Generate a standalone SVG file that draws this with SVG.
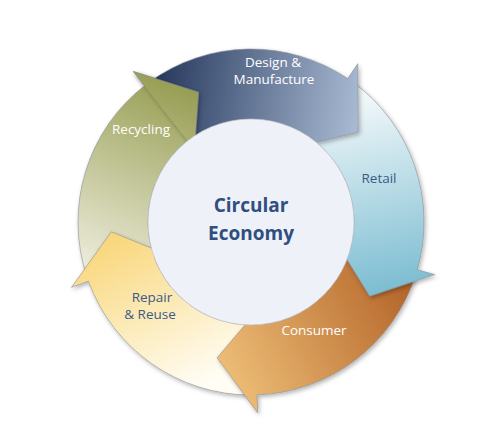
<svg xmlns="http://www.w3.org/2000/svg" width="503" height="445" viewBox="0 0 503 445">
<defs>
<filter id="sh" x="-20%" y="-20%" width="140%" height="140%"><feDropShadow dx="1.5" dy="2" stdDeviation="2" flood-color="#000" flood-opacity="0.3"/></filter>
<linearGradient id="gD" gradientUnits="userSpaceOnUse" x1="150" y1="80" x2="360" y2="110"><stop offset="0" stop-color="#23355a"/><stop offset="1" stop-color="#a9bbd3"/></linearGradient>
<linearGradient id="gR" gradientUnits="userSpaceOnUse" x1="350" y1="90" x2="390" y2="290"><stop offset="0" stop-color="#f6fafb"/><stop offset="1" stop-color="#7cbdd2"/></linearGradient>
<linearGradient id="gC" gradientUnits="userSpaceOnUse" x1="405" y1="280" x2="210" y2="380"><stop offset="0" stop-color="#b5662a"/><stop offset="1" stop-color="#f1c47c"/></linearGradient>
<linearGradient id="gP" gradientUnits="userSpaceOnUse" x1="180" y1="395" x2="100" y2="230"><stop offset="0" stop-color="#fffdf4"/><stop offset="1" stop-color="#f8d473"/></linearGradient>
<linearGradient id="gY" gradientUnits="userSpaceOnUse" x1="95" y1="285" x2="185" y2="80"><stop offset="0" stop-color="#f2f1e4"/><stop offset="1" stop-color="#949b4e"/></linearGradient>
</defs>
<style>
.a{stroke:#8a8f96;stroke-width:0.6;filter:url(#sh)}
.w{font-family:"Open Sans","Liberation Sans",sans-serif;font-size:13.5px;fill:#fff;text-anchor:middle}
.b{font-family:"Open Sans","Liberation Sans",sans-serif;font-size:13.5px;fill:#3c5a86;text-anchor:middle}
.c{font-family:"Open Sans","Liberation Sans",sans-serif;font-size:19px;font-weight:bold;fill:#2f4f7e;text-anchor:middle}
</style>
<g id="connectors">
<path id="recycling" class="a" fill="url(#gY)" d="M86.5,275.5 A173,173 0 0 1 144.5,85.7 L133.4,71.5 L198.6,92.2 L194.4,149.5 L187.6,140.8 A103,103 0 0 0 153,253.8 Z"/>
<path id="repair" class="a" fill="url(#gP)" d="M251,395 A173,173 0 0 1 88.4,281.2 L71.5,287.3 L111.3,231.8 L164.5,253.5 L154.2,257.2 A103,103 0 0 0 251,325 Z"/>
<path id="consumer" class="a" fill="url(#gC)" d="M415.5,275.5 A173,173 0 0 1 257,394.9 L257.7,412.9 L217.1,357.8 L254.2,313.9 L254.6,324.9 A103,103 0 0 0 349,253.8 Z"/>
<path id="retail" class="a" fill="url(#gR)" d="M352.7,82 A173,173 0 0 1 417.3,269.7 L434.6,274.6 L369.7,296.2 L339.4,247.4 L350,250.4 A103,103 0 0 0 311.5,138.7 Z"/>
<path id="design" class="a" fill="url(#gD)" d="M149.3,82 A173,173 0 0 1 347.7,78.6 L357.8,63.7 L358.2,132 L302.4,145.7 L308.6,136.6 A103,103 0 0 0 190.5,138.7 Z"/>
<path id="recycling-head" class="a" fill="url(#gY)" d="M144.5,85.7 L133.4,71.5 L198.6,92.2 L194.4,149.5 L187.6,140.8"/>
</g>
<g id="center">
<circle cx="251" cy="222" r="103" fill="#eef1f8" stroke="#b8bcc4" stroke-width="0.6"/>
<text class="c" x="251" y="212">Circular</text>
<text class="c" x="251" y="240">Economy</text>
</g>
<g id="labels">
<text class="w" x="273" y="67">Design &amp;</text>
<text class="w" x="274" y="84">Manufacture</text>
<text class="b" x="379" y="183">Retail</text>
<text class="w" x="314" y="335">Consumer</text>
<text class="b" x="152" y="302">Repair</text>
<text class="b" x="150" y="319">&amp; Reuse</text>
<text class="w" x="141" y="134">Recycling</text>
</g>
</svg>
